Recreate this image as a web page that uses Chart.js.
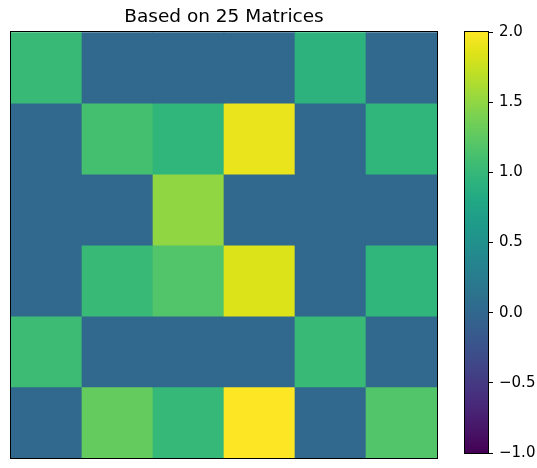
<!DOCTYPE html>
<html>
<head>
<meta charset="utf-8">
<script src="https://cdn.jsdelivr.net/npm/chart.js@4"></script>
<style>
  html, body { margin: 0; padding: 0; background: #fff; }
  #wrap { position: relative; width: 537px; height: 468px; }
  #heat { position: absolute; left: 0; top: 0; }
  #cbar { position: absolute; left: 450px; top: 0; }
</style>
</head>
<body>
<div id="wrap">
  <canvas id="heat" width="450" height="468"></canvas>
  <canvas id="cbar" width="87" height="468"></canvas>
</div>
<script>
// Averaged matrix values, rows listed top to bottom
const columns = ['0', '1', '2', '3', '4', '5'];
const row0 = [1.02, 0.00, 0.00, 0.00, 0.93, 0.00];
const row1 = [0.00, 1.10, 0.96, 1.90, 0.00, 0.96];
const row2 = [0.00, 0.00, 1.50, 0.00, 0.00, 0.00];
const row3 = [0.00, 1.02, 1.18, 1.84, 0.00, 0.96];
const row4 = [1.05, 0.00, 0.00, 0.00, 1.02, 0.00];
const row5 = [0.00, 1.28, 1.00, 2.00, 0.00, 1.18];
const rows = [row0, row1, row2, row3, row4, row5];

// Colour scale limits and colourbar ticks
const vmin = -1;
const vmax = 2;
const cbTicks = [-1, -0.5, 0, 0.5, 1, 1.5, 2];
const cbLabels = ['\u22121.0', '\u22120.5', '0.0', '0.5', '1.0', '1.5', '2.0'];

const titleText = 'Based on 25 Matrices';

// Viridis colormap stops (t in 0..1)
const viridis = [
  '#440154', '#471365', '#482475', '#463480', '#414487', '#3b528b',
  '#355f8d', '#2f6c8e', '#2a788e', '#25848e', '#21918c', '#1e9c89',
  '#22a884', '#2fb47c', '#44bf70', '#5ec962', '#7ad151', '#9bd93c',
  '#bddf26', '#dfe318', '#fde725'
];

function hexToRgb(h) {
  return [parseInt(h.slice(1, 3), 16), parseInt(h.slice(3, 5), 16), parseInt(h.slice(5, 7), 16)];
}
function colorFor(v) {
  let t = (v - vmin) / (vmax - vmin);
  t = Math.max(0, Math.min(1, t));
  const pos = t * (viridis.length - 1);
  const i = Math.min(viridis.length - 2, Math.floor(pos));
  const f = pos - i;
  const a = hexToRgb(viridis[i]), b = hexToRgb(viridis[i + 1]);
  const c = a.map((x, k) => Math.round(x + (b[k] - x) * f));
  return 'rgb(' + c.join(',') + ')';
}

const FONT = "'DejaVu Sans', sans-serif";

const framePlugin = {
  id: 'frame',
  afterDraw(chart) {
    const a = chart.chartArea;
    const ctx = chart.ctx;
    ctx.save();
    ctx.strokeStyle = '#000';
    ctx.lineWidth = 1;
    ctx.strokeRect(Math.round(a.left) - 0.5, Math.round(a.top) - 0.5,
                   Math.round(a.right - a.left) + 1, Math.round(a.bottom - a.top) + 1);
    ctx.restore();
  }
};

// Heatmap: each row is a dataset of floating bars spanning one unit of y
const nRows = rows.length;
const heatDatasets = rows.map((r, i) => ({
  data: r.map(() => [nRows - 1 - i, nRows - i]),
  backgroundColor: r.map(colorFor),
  borderWidth: 0,
  barPercentage: 1,
  categoryPercentage: 1,
  grouped: false
}));

new Chart(document.getElementById('heat'), {
  type: 'bar',
  data: { labels: columns, datasets: heatDatasets },
  plugins: [framePlugin],
  options: {
    responsive: false,
    devicePixelRatio: 1,
    animation: false,
    layout: { padding: { left: 11, right: 13, top: 0, bottom: 10 } },
    plugins: {
      legend: { display: false },
      tooltip: { enabled: false },
      title: {
        display: true,
        text: titleText,
        color: '#000',
        font: { family: FONT, size: 18.5, weight: 'normal' },
        padding: { top: 6, bottom: 4 }
      }
    },
    scales: {
      x: { type: 'category', display: false },
      y: { type: 'linear', display: false, min: 0, max: nRows }
    }
  }
});

// Colourbar: gradient filled between the scale's pixel positions
const gradientPlugin = {
  id: 'cbGradient',
  beforeDatasetsDraw(chart) {
    const a = chart.chartArea;
    const ys = chart.scales.y;
    const ctx = chart.ctx;
    const y0 = ys.getPixelForValue(vmin);
    const y1 = ys.getPixelForValue(vmax);
    const g = ctx.createLinearGradient(0, y0, 0, y1);
    viridis.forEach((c, k) => g.addColorStop(k / (viridis.length - 1), c));
    ctx.save();
    ctx.fillStyle = g;
    ctx.fillRect(a.left, y1, a.right - a.left, y0 - y1);
    ctx.restore();
  }
};

new Chart(document.getElementById('cbar'), {
  type: 'bar',
  data: { labels: [''], datasets: [{ data: [] }] },
  plugins: [gradientPlugin, framePlugin],
  options: {
    responsive: false,
    devicePixelRatio: 1,
    animation: false,
    layout: { padding: { left: 15, right: 0, top: 32, bottom: 10 } },
    plugins: { legend: { display: false }, tooltip: { enabled: false } },
    scales: {
      x: { display: false },
      y: {
        type: 'linear',
        position: 'right',
        min: vmin,
        max: vmax,
        afterBuildTicks(scale) { scale.ticks = cbTicks.map(v => ({ value: v })); },
        afterFit(scale) { scale.width = 49; },
        border: { display: false },
        grid: {
          drawOnChartArea: false,
          drawTicks: true,
          tickLength: 5,
          color: '#000',
          tickWidth: 1
        },
        ticks: {
          color: '#000',
          padding: 6,
          font: { family: FONT, size: 15 },
          callback(value) {
            const k = cbTicks.indexOf(value);
            return k >= 0 ? cbLabels[k] : '';
          }
        }
      }
    }
  }
});
</script>
</body>
</html>
